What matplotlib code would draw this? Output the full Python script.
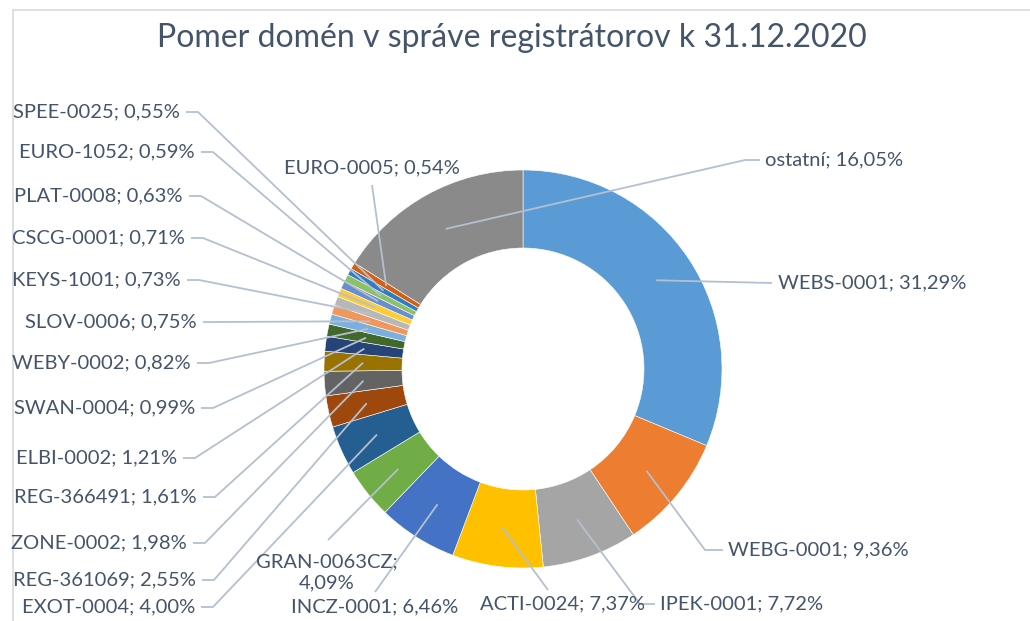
import numpy as np
import matplotlib
matplotlib.use("Agg")
from matplotlib import pyplot as plt
from matplotlib.patches import Rectangle

names = ['WEBS-0001', 'WEBG-0001', 'IPEK-0001', 'ACTI-0024', 'INCZ-0001', 'GRAN-0063CZ',
         'EXOT-0004', 'REG-361069', 'ZONE-0002', 'REG-366491', 'ELBI-0002', 'SWAN-0004',
         'WEBY-0002', 'SLOV-0006', 'KEYS-1001', 'CSCG-0001', 'PLAT-0008', 'EURO-1052',
         'SPEE-0025', 'EURO-0005', 'ostatní']
shares = [31.29, 9.36, 7.72, 7.37, 6.46, 4.09, 4.00, 2.55, 1.98, 1.61, 1.21, 0.99,
          0.82, 0.75, 0.73, 0.71, 0.63, 0.59, 0.55, 0.54, 16.05]
colors = ['#5B9BD5', '#ED7D31', '#A5A5A5', '#FFC000', '#4472C4', '#70AD47',
          '#255E91', '#9E480E', '#636363', '#997300', '#264478', '#43682B',
          '#7CAFDD', '#F1975A', '#B7B7B7', '#FFCD33', '#698ED0', '#8CC168',
          '#327DC2', '#D26012', '#8A8A8A']

# label layout in pixel coords: (x, y, ha, end point of leader line)
W, H = 1030, 621
layout = {
    'WEBS-0001':  (778, 283, 'left', (772, 283)),
    'WEBG-0001':  (728, 550, 'left', (705, 550)),
    'IPEK-0001':  (660, 604, 'left', (640, 604)),
    'ACTI-0024':  (563, 604, 'center', (548, 590)),
    'INCZ-0001':  (375, 607, 'center', (375, 592)),
    'GRAN-0063CZ': (327, 572, 'center', (328, 540)),
    'EXOT-0004':  (195, 607, 'right', (213, 607)),
    'REG-361069': (196, 580, 'right', (214, 580)),
    'ZONE-0002':  (187, 543, 'right', (205, 543)),
    'REG-366491': (197, 497, 'right', (215, 497)),
    'ELBI-0002':  (177, 458, 'right', (195, 458)),
    'SWAN-0004':  (195, 408, 'right', (213, 408)),
    'WEBY-0002':  (191, 363, 'right', (209, 363)),
    'SLOV-0006':  (197, 322, 'right', (215, 322)),
    'KEYS-1001':  (181, 280, 'right', (199, 280)),
    'CSCG-0001':  (185, 238, 'right', (203, 238)),
    'PLAT-0008':  (183, 196, 'right', (201, 196)),
    'EURO-1052':  (195, 152, 'right', (213, 152)),
    'SPEE-0025':  (180, 112, 'right', (198, 112)),
    'EURO-0005':  (372, 168, 'center', (372, 185)),
    'ostatní':    (765, 160, 'left', (745, 160)),
}

text_color = '#44546A'
line_color = '#B4C0CF'

fig = plt.figure(figsize=(W / 100, H / 100), dpi=100)
ax = fig.add_axes([0, 0, 1, 1])

ax.add_patch(Rectangle((13, -20), W, H - 10 + 20, fill=False, edgecolor='#D9D9D9', lw=1.2))

cx, cy, R = 523, H - 369, 199
ring = 78
wedges, _ = ax.pie(shares, colors=colors, startangle=90, counterclock=False,
                   center=(cx, cy), radius=R, frame=True,
                   wedgeprops=dict(width=ring, edgecolor='white', linewidth=0.4))
ax.set_xlim(0, W)
ax.set_ylim(0, H)
ax.set_aspect('equal')
ax.axis('off')

fnt = 'Lato'
for w, name, val in zip(wedges, names, shares):
    mid = np.deg2rad((w.theta1 + w.theta2) / 2)
    r_mid = R - ring / 2
    ax_x = cx + r_mid * np.cos(mid)
    ax_y = cy + r_mid * np.sin(mid)
    tx, ty, ha, (ex, ey) = layout[name]
    pts_x = [ax_x, ex]
    pts_y = [ax_y, H - ey]
    if ha == 'right':
        pts_x.append(tx + 6)
        pts_y.append(H - ey)
    elif ha == 'left' and abs(ex - tx) > 8:
        pts_x.append(tx - 5)
        pts_y.append(H - ey)
    ax.plot(pts_x, pts_y, color=line_color, lw=1.3, solid_capstyle='butt')
    txt = '{}; {}%'.format(name, ('%.2f' % val).replace('.', ','))
    if name == 'GRAN-0063CZ':
        txt = 'GRAN-0063CZ;\n4,09%'
    ax.text(tx, H - ty, txt, ha=ha, va='center', fontsize=14.5, color=text_color,
            family=fnt, linespacing=1.3)

fig.text(512 / W, 1 - 38 / H, 'Pomer domén v správe registrátorov k 31.12.2020',
         ha='center', va='center', fontsize=23, color=text_color, family=fnt)

fig.savefig('out.png', dpi=100, facecolor='white')
